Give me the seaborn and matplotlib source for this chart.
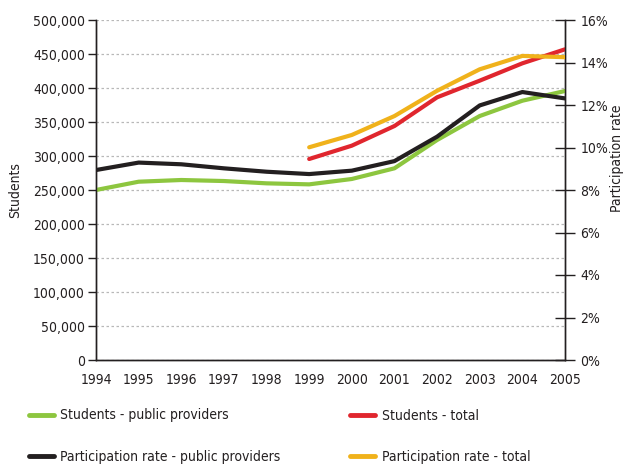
import matplotlib
matplotlib.use("Agg")
import matplotlib.pyplot as plt
import matplotlib.ticker as mticker
from matplotlib.lines import Line2D
import seaborn as sns
import pandas as pd

years = [1994, 1995, 1996, 1997, 1998, 1999, 2000, 2001, 2002, 2003, 2004, 2005]
students_public = [250000, 262200, 264700, 263200, 259800, 258300, 266200, 281900, 323500, 358800, 381300, 395600]
rate_public = [8.94, 9.29, 9.21, 9.02, 8.86, 8.75, 8.91, 9.36, 10.51, 11.98, 12.61, 12.31]
years_total = [1999, 2000, 2001, 2002, 2003, 2004, 2005]
students_total = [295600, 315200, 344100, 386300, 410800, 436300, 456900]
rate_total = [10.01, 10.59, 11.48, 12.67, 13.68, 14.31, 14.25]

labels = ["Students - public providers", "Students - total",
          "Participation rate - public providers", "Participation rate - total"]
colors = ["#8dc63f", "#e0262e", "#231f20", "#f0b21b"]

sns.set_style("white")
plt.rcParams["font.family"] = ["DejaVu Sans"]
plt.rcParams["font.stretch"] = "condensed"
plt.rcParams["font.size"] = 10

fig = plt.figure(figsize=(6.23, 4.65), dpi=100)
ax = fig.add_axes([96 / 623, 1 - 360 / 465, (565 - 96) / 623, 340 / 465])
ax2 = ax.twinx()

df_pub = pd.DataFrame({"year": years, "students": students_public, "rate": rate_public})
df_tot = pd.DataFrame({"year": years_total, "students": students_total, "rate": rate_total})

lw = 3.0
sns.lineplot(data=df_pub, x="year", y="students", ax=ax, color=colors[0], lw=lw, zorder=3)
sns.lineplot(data=df_tot, x="year", y="students", ax=ax, color=colors[1], lw=lw, zorder=3)
sns.lineplot(data=df_pub, x="year", y="rate", ax=ax2, color=colors[2], lw=lw, zorder=3)
sns.lineplot(data=df_tot, x="year", y="rate", ax=ax2, color=colors[3], lw=lw, zorder=3)

ax.set_xlim(1994, 2005)
ax.set_ylim(0, 500000)
ax2.set_ylim(0, 16)
ax.set_xticks(years)
ax.set_yticks(range(0, 500001, 50000))
ax2.set_yticks(range(0, 17, 2))
ax.yaxis.set_major_formatter(mticker.FuncFormatter(lambda v, p: f"{int(v):,}"))
ax2.yaxis.set_major_formatter(mticker.FuncFormatter(lambda v, p: f"{int(v)}%"))

ax.grid(axis="y", color="#b8b8b8", linestyle=(0, (2, 2)), lw=0.9)
ax.set_axisbelow(True)

for a in (ax, ax2):
    for s in a.spines.values():
        s.set_color("#231f20")
        s.set_linewidth(1.0)
ax.spines["top"].set_visible(False)
ax2.spines["top"].set_visible(False)

ax.tick_params(axis="y", direction="out", length=6, width=1, color="#231f20", labelsize=10, labelcolor="#231f20", pad=2)
ax.tick_params(axis="x", direction="out", length=6, width=1, color="#231f20", labelsize=10, labelcolor="#231f20", pad=3)
ax2.tick_params(axis="y", direction="inout", length=14, width=1, color="#231f20", labelsize=10, labelcolor="#231f20", pad=4)

ax.set_xlabel("")
ax.set_ylabel("Students", fontsize=10, color="#231f20", labelpad=8)
ax2.set_ylabel("Participation rate", fontsize=10, color="#231f20", rotation=90)
ax2.yaxis.set_label_coords((617 - 96) / 469, (360 - 158) / 340)
ax2.yaxis.label.set_va("center")
ax2.yaxis.label.set_ha("center")

handles = [Line2D([], [], color=c, lw=3.5) for c in colors]
order = [0, 2, 1, 3]
fig.legend([handles[i] for i in order], [labels[i] for i in order],
           ncol=2, loc="upper left", bbox_to_anchor=(16 / 623, 1 - 396 / 465),
           frameon=False, fontsize=10, handlelength=1.8, handletextpad=0.5,
           columnspacing=5.0, labelspacing=1.95, labelcolor="#231f20")

fig.savefig("out.png", dpi=100)
